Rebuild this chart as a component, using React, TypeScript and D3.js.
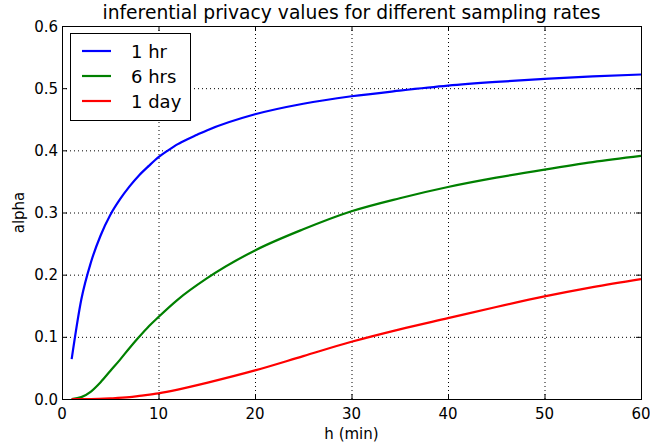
import React from 'react'
import * as d3 from 'd3'

// sample points (minutes) and alpha values
const hourX = [1, 2, 3, 4, 5, 6, 7, 8, 9, 10, 11, 12, 13, 14, 15, 20, 25, 30, 35, 40, 45, 50, 55, 60]
const hourY = [0.064, 0.16, 0.22, 0.263, 0.296, 0.321, 0.342, 0.36, 0.375, 0.389, 0.4, 0.41, 0.418, 0.425, 0.432, 0.458, 0.475, 0.487, 0.496, 0.504, 0.51, 0.515, 0.519, 0.522]

const sixX = [1, 2, 3, 4, 5, 6, 7, 8, 9, 10, 12, 15, 20, 25, 30, 35, 40, 45, 50, 55, 60]
const sixY = [0.0, 0.003, 0.012, 0.027, 0.045, 0.063, 0.082, 0.1, 0.117, 0.132, 0.16, 0.194, 0.239, 0.273, 0.302, 0.323, 0.341, 0.356, 0.369, 0.381, 0.391]

const dayX = [1, 3, 5, 7, 8, 10, 12, 15, 20, 25, 30, 35, 40, 45, 50, 55, 60]
const dayY = [0.0, 0.0, 0.001, 0.003, 0.005, 0.009, 0.015, 0.026, 0.046, 0.069, 0.092, 0.112, 0.13, 0.148, 0.165, 0.18, 0.193]

const seriesNames = ['1 hr', '6 hrs', '1 day']
const seriesColors = ['#0000ff', '#008000', '#ff0000']

const xTicks = [0, 10, 20, 30, 40, 50, 60]
const yTicks = [0, 0.1, 0.2, 0.3, 0.4, 0.5, 0.6]

const W = 650
const H = 447
const margin = { left: 62, right: 9, top: 26, bottom: 48 }

const App = () => {
  const x = d3.scaleLinear().domain([0, 60]).range([margin.left, W - margin.right])
  const y = d3.scaleLinear().domain([0, 0.6]).range([H - margin.bottom, margin.top])

  const line = d3
    .line<[number, number]>()
    .x((d) => x(d[0]))
    .y((d) => y(d[1]))
    .curve(d3.curveMonotoneX)

  const series = [
    hourX.map((v, i) => [v, hourY[i]] as [number, number]),
    sixX.map((v, i) => [v, sixY[i]] as [number, number]),
    dayX.map((v, i) => [v, dayY[i]] as [number, number]),
  ]

  const [x0, x1] = x.range()
  const [y0, y1] = y.range()
  const tickLen = 5
  const font = 'DejaVu Sans, sans-serif'

  return (
    <svg
      width={W}
      height={H}
      style={{ position: 'absolute', left: 0, top: 0, background: '#fff' }}
      fontFamily={font}
    >
      <rect width={W} height={H} fill="#fff" />
      {/* grid */}
      <g stroke="#000" strokeWidth={1} strokeDasharray="1,3">
        {xTicks.slice(1, -1).map((t) => (
          <line key={'gx' + t} x1={x(t) + 0.5} x2={x(t) + 0.5} y1={y0} y2={y1} />
        ))}
        {yTicks.slice(1, -1).map((t) => (
          <line key={'gy' + t} x1={x0} x2={x1} y1={y(t) + 0.5} y2={y(t) + 0.5} />
        ))}
      </g>

      {/* curves */}
      {series.map((s, i) => (
        <path key={i} d={line(s) || ''} fill="none" stroke={seriesColors[i]} strokeWidth={2.2} />
      ))}

      {/* ticks on all four sides, pointing inward */}
      <g stroke="#000" strokeWidth={1}>
        {xTicks.map((t) => (
          <g key={'tx' + t}>
            <line x1={x(t) + 0.5} x2={x(t) + 0.5} y1={y0} y2={y0 - tickLen} />
            <line x1={x(t) + 0.5} x2={x(t) + 0.5} y1={y1} y2={y1 + tickLen} />
          </g>
        ))}
        {yTicks.map((t) => (
          <g key={'ty' + t}>
            <line x1={x0} x2={x0 + tickLen} y1={y(t) + 0.5} y2={y(t) + 0.5} />
            <line x1={x1} x2={x1 - tickLen} y1={y(t) + 0.5} y2={y(t) + 0.5} />
          </g>
        ))}
      </g>

      {/* frame */}
      <rect x={x0 + 0.5} y={y1 + 0.5} width={x1 - x0} height={y0 - y1} fill="none" stroke="#000" strokeWidth={1} />

      {/* tick labels */}
      <g fontSize={15} fill="#000">
        {xTicks.map((t) => (
          <text key={'lx' + t} x={x(t)} y={y0 + 20} textAnchor="middle">
            {d3.format('d')(t)}
          </text>
        ))}
        {yTicks.map((t) => (
          <text key={'ly' + t} x={x0 - 4} y={y(t) + 5.5} textAnchor="end">
            {d3.format('.1f')(t)}
          </text>
        ))}
      </g>

      {/* axis labels and title */}
      <text x={(x0 + x1) / 2} y={439} textAnchor="middle" fontSize={15}>
        h (min)
      </text>
      <text transform={`translate(24 ${(y0 + y1) / 2}) rotate(-90)`} textAnchor="middle" fontSize={15}>
        alpha
      </text>
      <text x={(x0 + x1) / 2} y={19} textAnchor="middle" fontSize={18.7}>
        inferential privacy values for different sampling rates
      </text>

      {/* legend */}
      <g>
        <rect x={70.5} y={33.5} width={120} height={87} fill="#fff" stroke="#000" strokeWidth={1} />
        {seriesNames.map((n, i) => (
          <g key={n} transform={`translate(0 ${51 + i * 25})`}>
            <line x1={82} x2={111} y1={0} y2={0} stroke={seriesColors[i]} strokeWidth={2.2} />
            <text x={131} y={6.5} fontSize={18}>
              {n}
            </text>
          </g>
        ))}
      </g>
    </svg>
  )
}

export default App
